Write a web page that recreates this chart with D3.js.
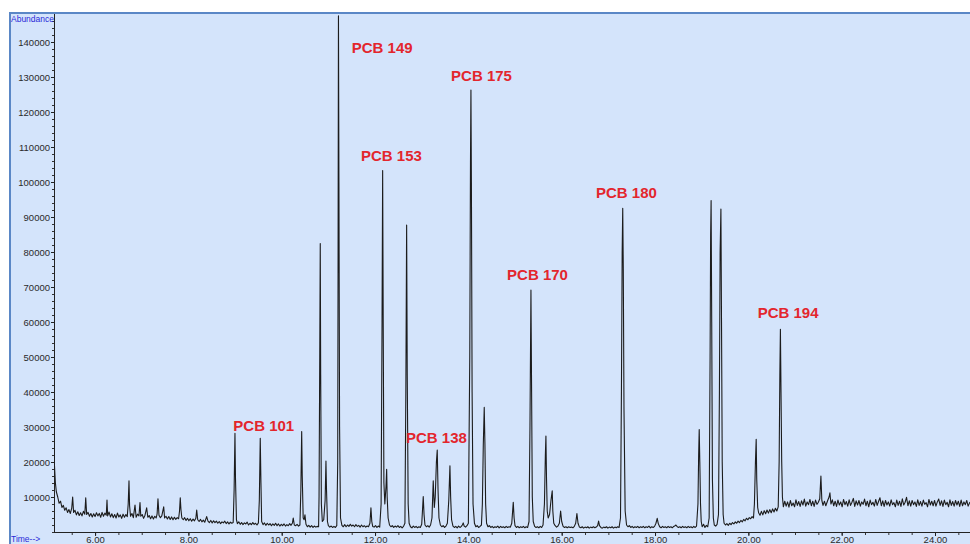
<!DOCTYPE html>
<html>
<head>
<meta charset="utf-8">
<script src="https://cdn.jsdelivr.net/npm/d3@7"></script>
<style>
    body { margin: 0; background: #ffffff; }
    svg { display: block; font-family: "Liberation Sans", Arial, sans-serif; }
</style>
</head>
<body>
<div id="plot"></div>
<script>
// retention time ticks (min) and abundance ticks
const timeTicks = [6, 8, 10, 12, 14, 16, 18, 20, 22, 24];
const abundanceTicks = [10000, 20000, 30000, 40000, 50000, 60000, 70000, 80000, 90000, 100000, 110000, 120000, 130000, 140000];

// peak annotations: name, time where text starts, abundance of text baseline
const peakNames = ["PCB 101", "PCB 149", "PCB 153", "PCB 138", "PCB 175", "PCB 170", "PCB 180", "PCB 194"];
const peakLabelTimes = [8.963, 11.50, 11.70, 12.664, 13.63, 14.83, 16.735, 20.20];
const peakLabelValues = [28900, 136800, 106100, 25500, 128900, 72000, 95300, 61200];

// TIC trace [time, abundance]
const traceEarly = [
    [5.12, 27500], [5.13, 19000], [5.15, 14000], [5.17, 11500], [5.20, 10000], [5.23, 8200], [5.26, 8800], [5.29, 7000],
    [5.32, 7600], [5.35, 6200], [5.38, 6900], [5.41, 5600], [5.44, 6400], [5.47, 5300], [5.50, 6800], [5.52, 10000],
    [5.54, 5600], [5.57, 6200], [5.60, 4900], [5.63, 5800], [5.66, 4700], [5.69, 5500], [5.72, 4600], [5.75, 5900],
    [5.78, 5100], [5.80, 9800], [5.82, 5000], [5.85, 5600], [5.88, 4500], [5.91, 5300], [5.94, 4300], [5.97, 5200],
    [6.00, 4400], [6.03, 5500], [6.06, 4600], [6.09, 5300], [6.12, 4200], [6.15, 5600], [6.18, 4500], [6.21, 5400],
    [6.24, 4800], [6.256, 9100], [6.27, 4600], [6.30, 5700], [6.33, 4300], [6.36, 5200], [6.39, 4100], [6.42, 5000],
    [6.45, 4000], [6.48, 5400], [6.51, 4300], [6.54, 4900], [6.57, 3900], [6.60, 5100], [6.63, 4200], [6.66, 5000],
    [6.69, 4400], [6.71, 8000], [6.727, 14600], [6.74, 7500], [6.76, 4500], [6.79, 5300], [6.82, 4100], [6.856, 7700],
    [6.88, 4200], [6.91, 5100], [6.94, 4600], [6.963, 8400], [6.98, 4500], [7.01, 5000], [7.04, 3900], [7.07, 4800],
    [7.106, 6900], [7.13, 4200], [7.16, 4700], [7.19, 3800], [7.22, 4600], [7.25, 3700], [7.28, 4500], [7.31, 4000],
    [7.33, 5200], [7.348, 9500], [7.37, 4800], [7.40, 4100], [7.43, 4600], [7.471, 7200], [7.49, 4000], [7.52, 4500],
    [7.55, 3700], [7.58, 4400], [7.61, 3600], [7.64, 4300], [7.67, 3500], [7.70, 4200], [7.73, 3600], [7.76, 4100],
    [7.79, 3800], [7.81, 6000], [7.826, 9800], [7.84, 6500], [7.86, 4000], [7.89, 3500], [7.92, 4100], [7.95, 3300],
    [7.98, 3900], [8.01, 3200], [8.04, 3800], [8.07, 3100], [8.10, 3700], [8.13, 3200], [8.16, 3900], [8.178, 6300],
    [8.20, 3500], [8.23, 3000], [8.26, 3600], [8.29, 2900], [8.32, 3400], [8.35, 2800], [8.392, 4400], [8.42, 3100],
    [8.45, 2700], [8.48, 3300], [8.51, 2600], [8.54, 3200], [8.57, 2700], [8.60, 3100], [8.63, 2500], [8.66, 3000],
    [8.69, 2400], [8.72, 2900], [8.75, 2600], [8.78, 3100], [8.81, 2400], [8.84, 2900], [8.87, 2300], [8.90, 2800],
    [8.93, 2500], [8.96, 2700], [8.98, 12000], [8.998, 28200], [9.01, 15000], [9.03, 3500], [9.05, 2400], [9.08, 2900],
    [9.11, 2200], [9.14, 2700], [9.17, 2100], [9.20, 2600], [9.23, 2300], [9.26, 2800], [9.29, 2000], [9.32, 2500],
    [9.35, 2100], [9.38, 2700], [9.41, 2200], [9.44, 2500], [9.47, 2000], [9.50, 2600], [9.52, 9000], [9.54, 26800],
    [9.555, 14000], [9.57, 3000], [9.60, 2100], [9.63, 2600], [9.66, 1900], [9.69, 2500], [9.72, 2000], [9.75, 2400],
    [9.78, 1800], [9.81, 2300], [9.84, 1900], [9.87, 2500], [9.90, 1800], [9.93, 2300], [9.96, 1700], [9.99, 2200],
    [10.02, 1800], [10.05, 2300], [10.08, 1700], [10.11, 2100], [10.14, 1800], [10.17, 2400], [10.20, 1900], [10.23, 2600],
    [10.247, 4000], [10.27, 2000], [10.30, 1800], [10.33, 2200], [10.36, 1700], [10.39, 2000], [10.41, 12000], [10.428, 28700],
    [10.44, 16000], [10.46, 4000], [10.48, 3500], [10.498, 4900], [10.52, 2200], [10.55, 1500], [10.58, 1900], [10.61, 1400],
    [10.64, 1800], [10.67, 1300], [10.70, 1700], [10.73, 1400], [10.76, 1600], [10.79, 1500]
];

const traceMiddle = [
    [10.80, 10000], [10.815, 50000], [10.826, 82400], [10.835, 45000], [10.85, 8000], [10.87, 3000], [10.90, 3500], [10.93, 9000],
    [10.948, 20300], [10.96, 12000], [10.98, 3000], [11.00, 1800], [11.03, 1400], [11.06, 1700], [11.09, 1300], [11.12, 1600],
    [11.15, 1300], [11.18, 1800], [11.20, 20000], [11.208, 80000], [11.216, 147500], [11.226, 100000], [11.24, 30000], [11.26, 4000],
    [11.29, 1900], [11.32, 1500], [11.35, 2100], [11.38, 1500], [11.41, 2000], [11.44, 1600], [11.47, 2200], [11.50, 1700],
    [11.53, 2000], [11.56, 1500], [11.59, 2100], [11.62, 1600], [11.65, 1900], [11.68, 1400], [11.71, 2000], [11.74, 1500],
    [11.77, 1800], [11.80, 1400], [11.83, 1700], [11.86, 1500], [11.89, 2500], [11.912, 6900], [11.93, 3000], [11.95, 1600],
    [11.98, 1400], [12.01, 1800], [12.04, 1300], [12.07, 1700], [12.10, 1400], [12.13, 8000], [12.15, 60000], [12.163, 103300],
    [12.175, 60000], [12.19, 14000], [12.21, 8000], [12.235, 13000], [12.249, 17900], [12.26, 10000], [12.28, 4000], [12.31, 2000],
    [12.34, 1500], [12.37, 1800], [12.40, 1300], [12.43, 1700], [12.46, 1400], [12.49, 1800], [12.52, 1300], [12.55, 1600],
    [12.58, 1200], [12.61, 1600], [12.64, 2500], [12.66, 40000], [12.677, 87700], [12.69, 45000], [12.71, 8000], [12.73, 2500],
    [12.76, 1500], [12.79, 1200], [12.82, 1700], [12.85, 1300], [12.88, 1600], [12.91, 1200], [12.94, 1500], [12.97, 1300],
    [13.00, 2200], [13.02, 7000], [13.033, 10100], [13.05, 5000], [13.07, 2000], [13.10, 1500], [13.13, 1800], [13.16, 1400],
    [13.19, 2000], [13.22, 4000], [13.247, 14600], [13.27, 7000], [13.29, 10000], [13.315, 20000], [13.333, 23400], [13.35, 12000],
    [13.37, 4000], [13.40, 2000], [13.43, 1500], [13.46, 1800], [13.49, 1300], [13.52, 1700], [13.55, 2500], [13.58, 9000],
    [13.605, 18900], [13.62, 10000], [13.64, 3500], [13.67, 1700], [13.70, 1300], [13.73, 1600], [13.76, 1200], [13.79, 1700],
    [13.82, 1300], [13.85, 1600], [13.87, 2000], [13.89, 2600], [13.91, 1700], [13.94, 1400], [13.97, 1800], [14.00, 2500],
    [14.03, 50000], [14.045, 105000], [14.055, 126300], [14.065, 100000], [14.08, 40000], [14.10, 8000], [14.13, 2500], [14.16, 1500],
    [14.19, 1800], [14.22, 1300], [14.25, 1600], [14.28, 2000], [14.30, 8000], [14.32, 25000], [14.34, 35600], [14.355, 25000],
    [14.37, 8000], [14.39, 2500], [14.42, 1500], [14.45, 1800], [14.48, 1300], [14.51, 1600], [14.54, 1200], [14.57, 1500],
    [14.60, 1300], [14.63, 1700], [14.66, 1200], [14.69, 1600], [14.72, 1300], [14.75, 1500], [14.78, 1200], [14.81, 1600],
    [14.84, 1300], [14.87, 1500], [14.90, 1400], [14.93, 2500], [14.962, 8500], [14.98, 4000], [15.00, 1800], [15.03, 1300],
    [15.06, 1600], [15.09, 1200], [15.12, 1500], [15.15, 1300], [15.18, 1600], [15.21, 1200], [15.24, 1500], [15.27, 1300],
    [15.30, 3000], [15.32, 30000], [15.341, 69100], [15.355, 40000], [15.37, 10000], [15.39, 3000], [15.42, 1600], [15.45, 1300],
    [15.48, 1500], [15.51, 1200], [15.54, 1600], [15.57, 1300], [15.60, 2000], [15.63, 8000], [15.65, 22000], [15.662, 27400],
    [15.675, 15000], [15.69, 6000], [15.71, 4000], [15.74, 5000], [15.77, 9000], [15.797, 11800], [15.81, 6000], [15.83, 2500],
    [15.86, 1800], [15.89, 1400], [15.92, 1700], [15.95, 2500], [15.977, 6000], [16.00, 3000], [16.03, 1600], [16.06, 1300],
    [16.09, 1500], [16.12, 1200], [16.15, 1500], [16.18, 1300], [16.21, 1400], [16.24, 1200], [16.27, 1600], [16.30, 2500],
    [16.326, 5300], [16.35, 2500], [16.38, 1400], [16.41, 1200], [16.44, 1500], [16.47, 1100], [16.50, 1400], [16.53, 1200],
    [16.56, 1500], [16.59, 1100], [16.62, 1400], [16.65, 1200], [16.68, 1500], [16.71, 1200], [16.74, 1400], [16.77, 1800],
    [16.791, 3100], [16.81, 1800], [16.84, 1300], [16.87, 1100], [16.90, 1400], [16.93, 1200], [16.96, 1500], [16.99, 1100],
    [17.02, 1400], [17.05, 1200], [17.08, 1500], [17.11, 1100], [17.14, 1400], [17.17, 1200], [17.20, 1500], [17.23, 1300],
    [17.26, 4000], [17.28, 40000], [17.296, 80000], [17.308, 92500], [17.32, 75000], [17.335, 35000], [17.36, 6000], [17.39, 2000]
];

const traceLate = [
    [17.42, 1500], [17.45, 1800], [17.48, 1300], [17.51, 1600], [17.54, 1200], [17.57, 1500], [17.60, 1300], [17.63, 1600],
    [17.66, 1200], [17.69, 1500], [17.72, 1300], [17.75, 1600], [17.78, 1200], [17.81, 1500], [17.84, 1300], [17.87, 1700],
    [17.90, 1200], [17.93, 1500], [17.96, 1300], [17.99, 1600], [18.02, 2500], [18.047, 3900], [18.07, 2400], [18.10, 1500],
    [18.13, 1200], [18.16, 1600], [18.19, 1300], [18.22, 1500], [18.25, 1200], [18.28, 1600], [18.31, 1300], [18.34, 1500],
    [18.37, 1200], [18.40, 1600], [18.43, 1800], [18.448, 2000], [18.47, 1600], [18.50, 1300], [18.53, 1500], [18.56, 1200],
    [18.59, 1600], [18.62, 1300], [18.65, 1500], [18.68, 1200], [18.71, 1600], [18.74, 1300], [18.77, 1500], [18.80, 1200],
    [18.83, 1600], [18.86, 1300], [18.89, 1700], [18.92, 8000], [18.935, 22000], [18.947, 29300], [18.96, 20000], [18.975, 8000],
    [18.99, 3000], [19.01, 1500], [19.04, 2200], [19.07, 1300], [19.10, 1900], [19.13, 1500], [19.16, 4000], [19.18, 50000],
    [19.192, 85000], [19.202, 94700], [19.215, 60000], [19.23, 15000], [19.25, 4000], [19.27, 2000], [19.30, 1700], [19.33, 2200],
    [19.36, 5000], [19.38, 40000], [19.395, 80000], [19.412, 92300], [19.425, 60000], [19.44, 20000], [19.46, 5000], [19.48, 2500],
    [19.51, 2000], [19.54, 2400], [19.57, 1900], [19.60, 2500], [19.63, 2100], [19.66, 2700], [19.69, 2300], [19.72, 2900],
    [19.75, 2500], [19.78, 3100], [19.81, 2700], [19.84, 3300], [19.87, 2900], [19.90, 3600], [19.93, 3200], [19.96, 3900],
    [19.99, 3500], [20.02, 4100], [20.05, 3800], [20.08, 4400], [20.11, 4000], [20.13, 8000], [20.152, 20000], [20.168, 26500],
    [20.18, 15000], [20.20, 7000], [20.22, 5500], [20.25, 4800], [20.28, 5900], [20.31, 4900], [20.34, 6100], [20.37, 5200],
    [20.40, 6300], [20.43, 5400], [20.46, 6400], [20.49, 5500], [20.52, 6600], [20.55, 5700], [20.58, 6800], [20.61, 6000],
    [20.64, 7200], [20.66, 20000], [20.675, 45000], [20.687, 57900], [20.70, 40000], [20.715, 20000], [20.73, 10000], [20.75, 7200],
    [20.78, 8800], [20.81, 7400], [20.84, 8600], [20.87, 7100], [20.90, 9000], [20.93, 7500], [20.96, 8300], [20.99, 7200],
    [21.02, 9200], [21.05, 7600], [21.08, 8700], [21.11, 7300], [21.14, 8900], [21.17, 7700], [21.20, 9400], [21.23, 7400],
    [21.26, 8600], [21.29, 7800], [21.32, 9300], [21.35, 7500], [21.38, 8800], [21.41, 7300], [21.44, 9100], [21.47, 7900],
    [21.50, 8500], [21.53, 9500], [21.555, 16000], [21.575, 9000], [21.60, 7600], [21.63, 8800], [21.66, 7500], [21.70, 9000],
    [21.73, 10000], [21.748, 11200], [21.77, 8000], [21.80, 9200], [21.83, 7500], [21.86, 8800], [21.89, 7300], [21.92, 9100],
    [21.95, 7700], [21.98, 8600], [22.01, 7200], [22.04, 9300], [22.07, 7800], [22.10, 8700], [22.13, 7400], [22.16, 9200],
    [22.19, 7600], [22.22, 8500], [22.25, 9600], [22.28, 7300], [22.31, 8900], [22.34, 7700], [22.37, 9000], [22.40, 7400],
    [22.43, 8600], [22.46, 7900], [22.49, 9400], [22.52, 7500], [22.55, 8800], [22.58, 7200], [22.61, 9100], [22.64, 7800],
    [22.67, 8500], [22.70, 7400], [22.73, 9300], [22.76, 7600], [22.79, 8700], [22.82, 9800], [22.85, 7500], [22.88, 8900],
    [22.91, 7300], [22.94, 9000], [22.97, 7700], [23.00, 8600], [23.03, 7400], [23.06, 9200], [23.09, 7800], [23.12, 8400],
    [23.15, 7200], [23.18, 9100], [23.21, 7600], [23.24, 8800], [23.27, 7300], [23.30, 9500], [23.33, 7700], [23.36, 8500],
    [23.39, 9900], [23.42, 7500], [23.45, 8900], [23.48, 7400], [23.51, 9000], [23.54, 7800], [23.57, 8600], [23.60, 7300],
    [23.63, 9200], [23.66, 7600], [23.69, 8700], [23.72, 7400], [23.75, 9100], [23.78, 7900], [23.81, 8400], [23.84, 7200],
    [23.87, 9300], [23.90, 7700], [23.93, 8800], [23.96, 7500], [23.99, 9000], [24.02, 7400], [24.05, 8600], [24.08, 9400],
    [24.11, 7600], [24.14, 8900], [24.17, 7300], [24.20, 9100], [24.23, 7800], [24.26, 8500], [24.29, 7200], [24.32, 9200],
    [24.35, 7600], [24.38, 8700], [24.41, 7400], [24.44, 9000], [24.47, 7700], [24.50, 8800], [24.53, 7300], [24.56, 9100],
    [24.59, 7500], [24.62, 8600], [24.65, 7800], [24.68, 9000], [24.71, 7400], [24.75, 8600]
];

const width = 970;
const height = 544;
const frame = { left: 10, top: 13 };
const plotArea = { left: 54, top: 14, right: 970, bottom: 532 };
const axisFont = "Liberation Sans, Arial, sans-serif";

const svg = d3.create("svg")
    .attr("width", width)
    .attr("height", height);

// panel background with the blue frame on top and left
svg.append("rect")
    .attr("x", frame.left)
    .attr("y", frame.top)
    .attr("width", width - frame.left + 5)
    .attr("height", height - frame.top + 5)
    .attr("fill", "#d4e4fb")
    .attr("stroke", "#5a87c6")
    .attr("stroke-width", 2);

const xScale = d3.scaleLinear()
    .domain([5.12, 24.75])
    .range([plotArea.left, plotArea.right]);

const yScale = d3.scaleLinear()
    .domain([0, 148000])
    .range([plotArea.bottom, plotArea.top]);

svg.append("clipPath")
    .attr("id", "clip")
    .append("rect")
    .attr("x", plotArea.left)
    .attr("y", plotArea.top)
    .attr("width", plotArea.right - plotArea.left)
    .attr("height", plotArea.bottom - plotArea.top);

// y axis: minor ticks then major ticks with labels
svg.append("g")
    .attr("transform", "translate(" + plotArea.left + ",0)")
    .call(d3.axisLeft(yScale).tickValues(d3.range(0, 148000, 2000)).tickSize(2).tickFormat(""))
    .call(g => g.select(".domain").remove())
    .selectAll("line").attr("stroke", "#333");

const yAxis = svg.append("g")
    .attr("transform", "translate(" + plotArea.left + ",0)")
    .call(d3.axisLeft(yScale).tickValues(abundanceTicks).tickSize(3).tickPadding(1).tickFormat(d3.format("d")));
yAxis.select(".domain").remove();
yAxis.selectAll("line").attr("stroke", "#222");
yAxis.selectAll("text")
    .attr("font-size", "9.5px")
    .attr("font-family", axisFont)
    .attr("fill", "#2a2a2a");

// x axis
svg.append("g")
    .attr("transform", "translate(0," + plotArea.bottom + ")")
    .call(d3.axisBottom(xScale).tickValues(d3.range(5.5, 24.8, 0.5)).tickSize(3).tickFormat(""))
    .call(g => g.select(".domain").remove())
    .selectAll("line").attr("stroke", "#333");

const xAxis = svg.append("g")
    .attr("transform", "translate(0," + plotArea.bottom + ")")
    .call(d3.axisBottom(xScale).tickValues(timeTicks).tickSize(4).tickPadding(0).tickFormat(d3.format(".2f")));
xAxis.select(".domain").remove();
xAxis.selectAll("line").attr("stroke", "#222");
xAxis.selectAll("text")
    .attr("font-size", "9.5px")
    .attr("font-family", axisFont)
    .attr("fill", "#2a2a2a");

// axis lines
svg.append("line")
    .attr("x1", plotArea.left).attr("x2", plotArea.left)
    .attr("y1", plotArea.top).attr("y2", plotArea.bottom)
    .attr("stroke", "#222")
    .attr("shape-rendering", "crispEdges");
svg.append("line")
    .attr("x1", plotArea.left).attr("x2", plotArea.right)
    .attr("y1", plotArea.bottom).attr("y2", plotArea.bottom)
    .attr("stroke", "#222")
    .attr("shape-rendering", "crispEdges");

// the chromatogram
const trace = traceEarly.concat(traceMiddle, traceLate);
const line = d3.line()
    .x(d => xScale(d[0]))
    .y(d => yScale(d[1]));

svg.append("path")
    .datum(trace)
    .attr("clip-path", "url(#clip)")
    .attr("fill", "none")
    .attr("stroke", "#1c1c1c")
    .attr("stroke-width", 1.1)
    .attr("stroke-linejoin", "round")
    .attr("d", line);

// peak labels
svg.append("g")
    .selectAll("text")
    .data(peakNames)
    .join("text")
    .attr("x", (d, i) => xScale(peakLabelTimes[i]))
    .attr("y", (d, i) => yScale(peakLabelValues[i]))
    .attr("font-size", "15px")
    .attr("font-weight", "bold")
    .attr("font-family", axisFont)
    .attr("fill", "#e3262d")
    .text(d => d);

// corner captions
svg.append("text")
    .attr("x", frame.left + 1)
    .attr("y", 22)
    .attr("font-size", "8.5px")
    .attr("font-family", axisFont)
    .attr("fill", "#2b2bd8")
    .text("Abundance");

svg.append("text")
    .attr("x", frame.left + 1)
    .attr("y", 542)
    .attr("font-size", "8.5px")
    .attr("font-family", axisFont)
    .attr("fill", "#2b2bd8")
    .text("Time-->");

document.getElementById("plot").append(svg.node());
</script>
</body>
</html>
